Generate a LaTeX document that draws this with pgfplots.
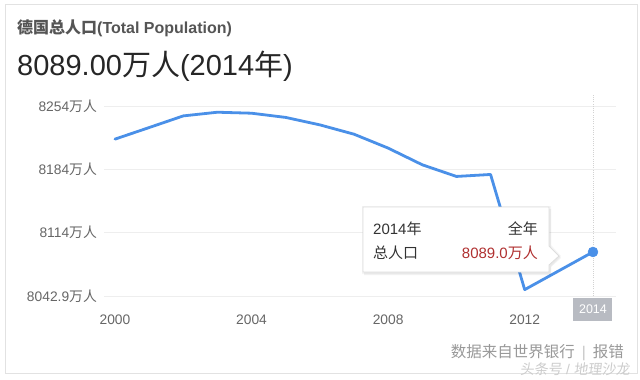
\documentclass[border=0pt]{standalone}
\usepackage{fontspec}
\setmainfont{Liberation Sans}
\newfontfamily\cjk{Noto Sans CJK SC}
\newfontfamily\cjkslant[FakeSlant=0.12]{Noto Sans CJK SC}
\usepackage{pgfplots}
\pgfplotsset{compat=1.18}
\definecolor{lineblue}{HTML}{4A90E8}
\definecolor{gridgray}{HTML}{EEEEEE}
\definecolor{tickgray}{HTML}{666666}
\definecolor{titlegray}{HTML}{555555}
\definecolor{bigtext}{HTML}{262626}
\definecolor{tipred}{HTML}{B03030}
\definecolor{tiptext}{HTML}{333333}
\definecolor{boxgray}{HTML}{B8BBC2}
\definecolor{footgray}{HTML}{999999}
\definecolor{cardborder}{HTML}{E2E2E2}
\definecolor{tipborder}{HTML}{DDDDDD}
\begin{document}
\begin{tikzpicture}
\fill[white] (0,0) rectangle (640bp,-380bp);
\draw[cardborder, line width=1bp] (5bp,-4bp) rectangle (637bp,-373bp);
% titles
\node[anchor=base west, inner sep=0pt, text=titlegray, font=\fontsize{16bp}{18bp}\selectfont\bfseries] at (17bp,-33bp) {{\cjk 德国总人口}(Total Population)};
\node[anchor=base west, inner sep=0pt, text=bigtext, font=\fontsize{29bp}{32bp}\selectfont] at (17bp,-75bp) {8089.00{\cjk 万人}(2014{\cjk 年})};

\begin{axis}[
  at={(104bp,-296bp)}, anchor=south west,
  width=512bp, height=201bp, scale only axis,
  xmin=1999.678, xmax=2014.674,
  ymin=8042.9, ymax=8267,
  axis line style={draw=none},
  tick style={draw=none},
  ytick={8042.9,8114,8184,8254},
  yticklabels={{8042.9{\cjk 万人}},{8114{\cjk 万人}},{8184{\cjk 万人}},{8254{\cjk 万人}}},
  xtick={2000,2004,2008,2012},
  xticklabels={2000,2004,2008,2012},
  ymajorgrids,
  grid style={gridgray, line width=1bp},
  yticklabel style={font=\fontsize{13.8bp}{15bp}\selectfont, text=tickgray, anchor=east, inner sep=0pt, xshift=-7bp},
  xticklabel style={font=\fontsize{13.8bp}{15bp}\selectfont, text=tickgray, anchor=center, inner sep=0pt, yshift=-24bp},
  clip=false,
]
\draw[color=gray!35, line width=0.8bp, dash pattern=on 1bp off 1.2bp] (axis cs:2014,8042.9) -- (axis cs:2014,8267);
\addplot[color=lineblue, line width=2.8bp, line join=round, line cap=round, mark=none] coordinates {
(2000,8217.8) (2001,8230.7) (2002,8243.7) (2003,8247.8) (2004,8246.7)
(2005,8242.0) (2006,8233.7) (2007,8223.3) (2008,8207.8) (2009,8189.2)
(2010,8176.2) (2011,8178.4) (2012,8050.0) (2013,8071.0) (2014,8092.0)
};
\addplot[only marks, mark=*, mark size=5bp, color=lineblue] coordinates {(2014,8092.0)};
\node[fill=boxgray, text=white, inner sep=0pt, minimum width=39bp, minimum height=23bp, font=\fontsize{12.5bp}{14bp}\selectfont, yshift=-13.5bp] at (axis cs:2014,8042.9) {2014};
\end{axis}

% tooltip shadow
\fill[black, opacity=0.05] (364bp,-209bp) -- (551bp,-209bp) -- (551bp,-248bp) -- (561bp,-258bp) -- (551bp,-267bp) -- (551bp,-275bp) -- (364bp,-275bp) -- cycle;
\fill[black, opacity=0.04] (362bp,-206bp) -- (551bp,-206bp) -- (551bp,-245bp) -- (561bp,-256bp) -- (551bp,-266bp) -- (551bp,-274bp) -- (362bp,-274bp) -- cycle;
\draw[fill=white, draw=tipborder, line width=0.8bp] (363bp,-207bp) -- (549bp,-207bp) -- (549bp,-246bp) -- (559bp,-256bp) -- (549bp,-265bp) -- (549bp,-272bp) -- (363bp,-272bp) -- cycle;
\node[anchor=base west, inner sep=0pt, text=tiptext, font=\fontsize{15bp}{17bp}\selectfont] at (373bp,-234.5bp) {2014{\cjk 年}};
\node[anchor=base east, inner sep=0pt, text=tiptext, font=\fontsize{15bp}{17bp}\selectfont] at (538bp,-234.5bp) {{\cjk 全年}};
\node[anchor=base west, inner sep=0pt, text=tiptext, font=\fontsize{15bp}{17bp}\selectfont] at (373bp,-258.5bp) {{\cjk 总人口}};
\node[anchor=base east, inner sep=0pt, text=tipred, font=\fontsize{15bp}{17bp}\selectfont] at (538bp,-258.5bp) {8089.0{\cjk 万人}};

% footer
\node[anchor=base east, inner sep=0pt, text=footgray, font=\fontsize{15.5bp}{17bp}\selectfont] at (624bp,-357bp) {{\cjk 数据来自世界银行}\hspace{7bp}{\color{gray!45}|}\hspace{7bp}{\cjk 报错}};
\node[anchor=base east, inner sep=0pt, text=gray!40, font=\fontsize{14bp}{16bp}\selectfont] at (630bp,-374bp) {{\cjkslant 头条号} / {\cjkslant 地理沙龙}};
\end{tikzpicture}
\end{document}
